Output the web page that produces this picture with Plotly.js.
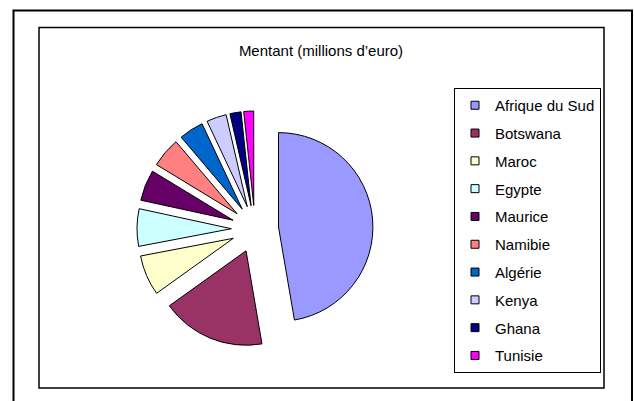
<!DOCTYPE html>
<html>
<head>
<meta charset="utf-8">
<script src="https://cdn.plot.ly/plotly-3.0.1.min.js"></script>
<style>html,body{margin:0;padding:0;background:#fff;}#chart{width:634px;height:401px;}</style>
</head>
<body>
<div id="chart"></div>
<script>
// Data
var categories = ["Afrique du Sud", "Botswana", "Maroc", "Egypte", "Maurice", "Namibie", "Algérie", "Kenya", "Ghana", "Tunisie"];
var montants = [47.3, 17.8, 6.9, 6.4, 5.3, 5.1, 4.2, 3.4, 1.9, 1.7];
var colors = ["#9999FF", "#993366", "#FFFFCC", "#CCFFFF", "#660066", "#FF8080", "#0066CC", "#CCCCFF", "#000080", "#FF00FF"];
var chartTitle = "Mentant (millions d’euro)";

var W = 634, H = 401;
function px(x) { return x / W; }
function py(y) { return 1 - y / H; }

var traces = [{
  type: "pie",
  labels: categories,
  values: montants,
  sort: false,
  direction: "clockwise",
  rotation: 0,
  pull: categories.map(function () { return 0.25; }),
  marker: { colors: colors, line: { color: "#000000", width: 1 } },
  textinfo: "none",
  hoverinfo: "label+value",
  showlegend: false,
  domain: { x: [px(137), px(373)], y: [53 / H, 291 / H] }
}];

// legend entries (one per category)
categories.forEach(function (c, i) {
  traces.push({
    type: "scatter",
    mode: "markers",
    x: [null], y: [null],
    name: c,
    legendgroup: "g" + i,
    marker: { symbol: "square", size: 8, color: colors[i], line: { color: "#000000", width: 1 } },
    hoverinfo: "skip",
    showlegend: true
  });
});

var layout = {
  width: W, height: H,
  margin: { l: 0, r: 0, t: 0, b: 0 },
  paper_bgcolor: "#ffffff",
  plot_bgcolor: "rgba(0,0,0,0)",
  font: { family: "Liberation Sans, Arial, sans-serif", size: 15, color: "#000000" },
  title: {
    text: chartTitle,
    x: px(321), xanchor: "center",
    y: py(51), yanchor: "middle",
    font: { family: "Liberation Sans, Arial, sans-serif", size: 15, color: "#000000" }
  },
  xaxis: { visible: false },
  yaxis: { visible: false },
  showlegend: true,
  legend: {
    x: px(454), xanchor: "left",
    y: py(88), yanchor: "top",
    bgcolor: "#ffffff",
    bordercolor: "#000000",
    borderwidth: 1,
    traceorder: "grouped",
    tracegroupgap: 5.3,
    font: { family: "Liberation Sans, Arial, sans-serif", size: 15, color: "#000000" }
  },
  shapes: [
    { type: "rect", xref: "paper", yref: "paper", x0: px(13.5), x1: px(632), y0: py(420), y1: py(10.5),
      line: { color: "#000000", width: 2 }, fillcolor: "rgba(0,0,0,0)", layer: "above" },
    { type: "rect", xref: "paper", yref: "paper", x0: px(39), x1: px(604), y0: py(388), y1: py(27.5),
      line: { color: "#000000", width: 1.5 }, fillcolor: "rgba(0,0,0,0)", layer: "above" }
  ]
};

Plotly.newPlot("chart", traces, layout, { displayModeBar: false, staticPlot: true });
</script>
</body>
</html>
